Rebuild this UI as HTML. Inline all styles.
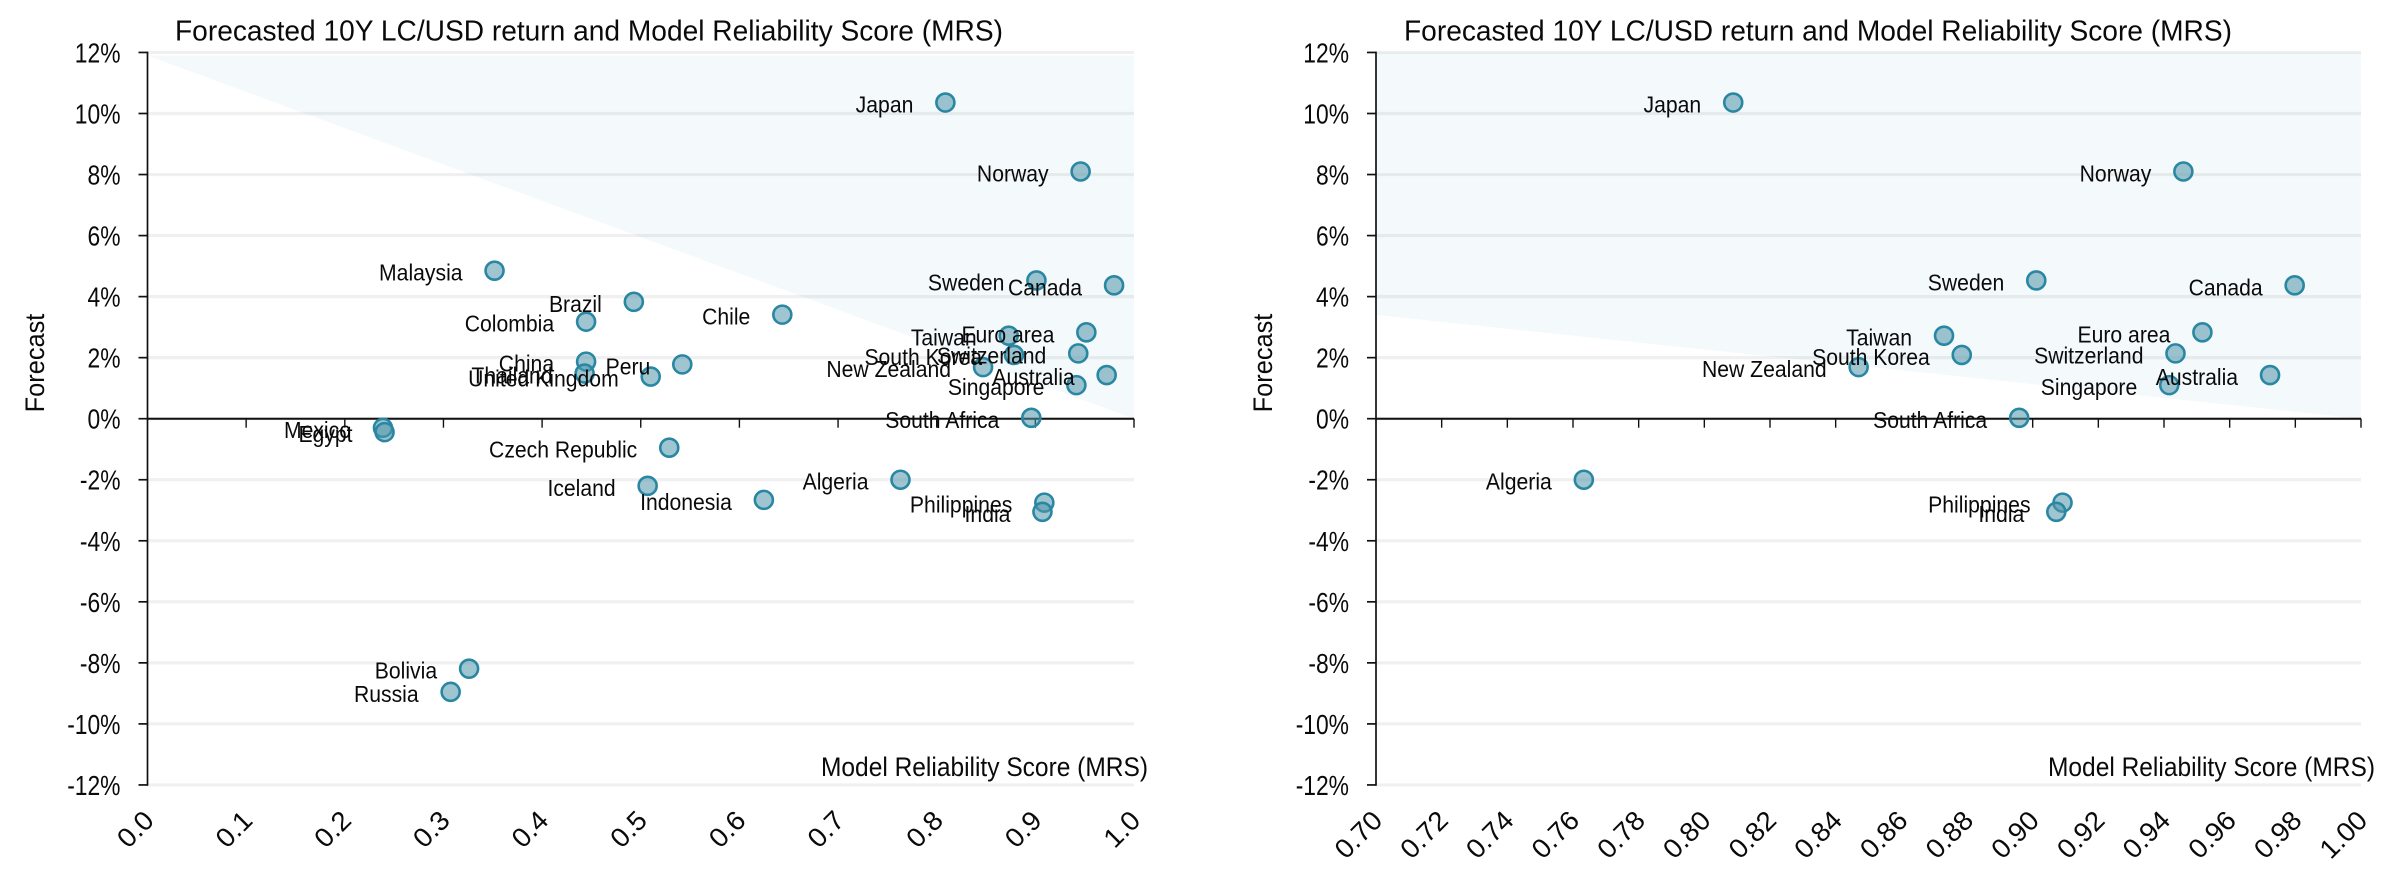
<!DOCTYPE html>
<html lang="en">
<head>
<meta charset="utf-8">
<title>Forecasted 10Y LC/USD return and Model Reliability Score</title>
<style>
html,body{margin:0;padding:0;background:#fff;width:2400px;height:881px;overflow:hidden}
svg{display:block}
text{font-family:"Liberation Sans",sans-serif;fill:#0a0a0a}
</style>
</head>
<body>
<svg id="chart" xmlns="http://www.w3.org/2000/svg" width="2400" height="881" viewBox="0 0 2400 881"></svg>
<script>
const countries = ["Japan","Norway","Malaysia","Sweden","Canada","Brazil","Chile","Colombia","Taiwan","Euro area","South Korea","Switzerland","China","Peru","New Zealand","Thailand","Australia","United Kingdom","Singapore","South Africa","Mexico","Egypt","Czech Republic","Algeria","Iceland","Indonesia","Philippines","India","Bolivia","Russia"];
const mrsScores = [0.8088,0.9459,0.3518,0.9011,0.9798,0.4930,0.6435,0.4446,0.8730,0.9517,0.8784,0.9435,0.4446,0.5421,0.8470,0.4431,0.9723,0.5101,0.9416,0.8959,0.2387,0.2403,0.5289,0.7633,0.5070,0.6248,0.9091,0.9072,0.3260,0.3073];
const forecasts = [10.36,8.10,4.85,4.53,4.37,3.83,3.41,3.18,2.72,2.83,2.09,2.14,1.87,1.78,1.69,1.48,1.43,1.38,1.10,0.03,-0.30,-0.44,-0.95,-2.00,-2.20,-2.66,-2.75,-3.05,-8.19,-8.95];
const yTickValues = [12,10,8,6,4,2,0,-2,-4,-6,-8,-10,-12];
const xTickLabelsLeft = ["0.0","0.1","0.2","0.3","0.4","0.5","0.6","0.7","0.8","0.9","1.0"];
const xTickLabelsRight = ["0.70","0.72","0.74","0.76","0.78","0.80","0.82","0.84","0.86","0.88","0.90","0.92","0.94","0.96","0.98","1.00"];
const shadeLeftX = [0,1,1];
const shadeLeftY = [11.9,0,11.9];
const shadeRightX = [0.7,1,1,0.7];
const shadeRightY = [3.4,0,12,12];

const svg = document.getElementById('chart');
const NS = 'http://www.w3.org/2000/svg';
const yZero = 418.7, yPerUnit = 30.52;
const yScale = v => yZero - v * yPerUnit;

function make(tag, attrs, parent) {
  const el = document.createElementNS(NS, tag);
  for (const k in attrs) el.setAttribute(k, attrs[k]);
  parent.appendChild(el);
  return el;
}
function fit(el, factor, target) {
  const natural = el.getComputedTextLength();
  el.setAttribute('textLength', (target || natural * factor).toFixed(1));
  el.setAttribute('lengthAdjust', 'spacingAndGlyphs');
}

function drawPanel(cfg) {
  const g = make('g', {}, svg);
  
  
  const xMin = Number(cfg.xTicks[0]);
  const xMax = Number(cfg.xTicks[cfg.xTicks.length - 1]);
  const xScale = v => cfg.left + (v - xMin) / (xMax - xMin) * (cfg.right - cfg.left);

  yTickValues.forEach(v => {
    const grid = make('line', {x1: cfg.left, x2: cfg.right, y1: yScale(v), y2: yScale(v), stroke: '#f0f0f0', 'stroke-width': 3.2}, g);
    
    
  });

  const pts = cfg.shadeX.map((x, i) => xScale(x).toFixed(1) + ',' + yScale(cfg.shadeY[i]).toFixed(1)).join(' ');
  const shade = make('polygon', {points: pts, fill: 'rgb(0,110,170)', 'fill-opacity': 0.045}, g);
  
  

  const yAxis = make('line', {x1: cfg.left, x2: cfg.left, y1: yScale(12) - 0.8, y2: yScale(-12) + 0.8, stroke: '#111', 'stroke-width': 1.7}, g);
  
  
  const xAxis = make('line', {x1: cfg.left, x2: cfg.right, y1: yZero, y2: yZero, stroke: '#111', 'stroke-width': 2}, g);
  
  

  yTickValues.forEach(v => {
    const tick = make('line', {x1: cfg.left - 9, x2: cfg.left, y1: yScale(v), y2: yScale(v), stroke: '#111', 'stroke-width': 1.7}, g);
    
    
    const label = make('text', {x: cfg.left - 27, y: yScale(v) + 10, 'text-anchor': 'end', 'font-size': 27.5}, g);
    label.textContent = v + '%';
    
    
    fit(label, 0.83);
  });

  cfg.xTicks.forEach(t => {
    const px = xScale(Number(t));
    if (Number(t) !== xMin) {
      const tick = make('line', {x1: px, x2: px, y1: yZero, y2: yZero + 9, stroke: '#111', 'stroke-width': 1.4}, g);
      
      
    }
    const label = make('text', {x: px + 8, y: 822, 'text-anchor': 'end', 'font-size': 27, transform: 'rotate(-45 ' + (px + 8) + ' 822)'}, g);
    label.textContent = t;
    
    
    fit(label, 1.03);
  });

  const visible = countries.map((c, i) => i).filter(i => mrsScores[i] >= xMin);
  visible.forEach(i => {
    const pt = make('circle', {cx: xScale(mrsScores[i]), cy: yScale(forecasts[i]), r: 9, fill: 'rgb(80,150,170)', 'fill-opacity': 0.55, stroke: '#2a87a3', 'stroke-width': 2.6}, g);
    
    
  });
  visible.forEach(i => {
    const label = make('text', {x: xScale(mrsScores[i]) - 32, y: yScale(forecasts[i]) + 10, 'text-anchor': 'end', 'font-size': 23}, g);
    label.textContent = countries[i];
    
    
    fit(label, 0.92);
  });

  const title = make('text', {x: cfg.titleX, y: 40.7, 'font-size': 29}, g);
  title.textContent = 'Forecasted 10Y LC/USD return and Model Reliability Score (MRS)';
  
  
  fit(title, 1, 828);

  const yTitle = make('text', {x: 0, y: 0, 'text-anchor': 'middle', 'font-size': 27, transform: 'translate(' + cfg.yTitleX + ' 363) rotate(-90)'}, g);
  yTitle.textContent = 'Forecast';
  
  
  fit(yTitle, 0.94);

  const xTitle = make('text', {x: cfg.xTitleX, y: 776, 'font-size': 27}, g);
  xTitle.textContent = 'Model Reliability Score (MRS)';
  
  
  fit(xTitle, 1, 327);
}

drawPanel({name: 'full-range-panel', left: 147.5, right: 1134, xTicks: xTickLabelsLeft, shadeX: shadeLeftX, shadeY: shadeLeftY, titleX: 175, yTitleX: 44, xTitleX: 821});
drawPanel({name: 'zoomed-range-panel', left: 1376, right: 2361, xTicks: xTickLabelsRight, shadeX: shadeRightX, shadeY: shadeRightY, titleX: 1404, yTitleX: 1272, xTitleX: 2048});
</script>
</body>
</html>
